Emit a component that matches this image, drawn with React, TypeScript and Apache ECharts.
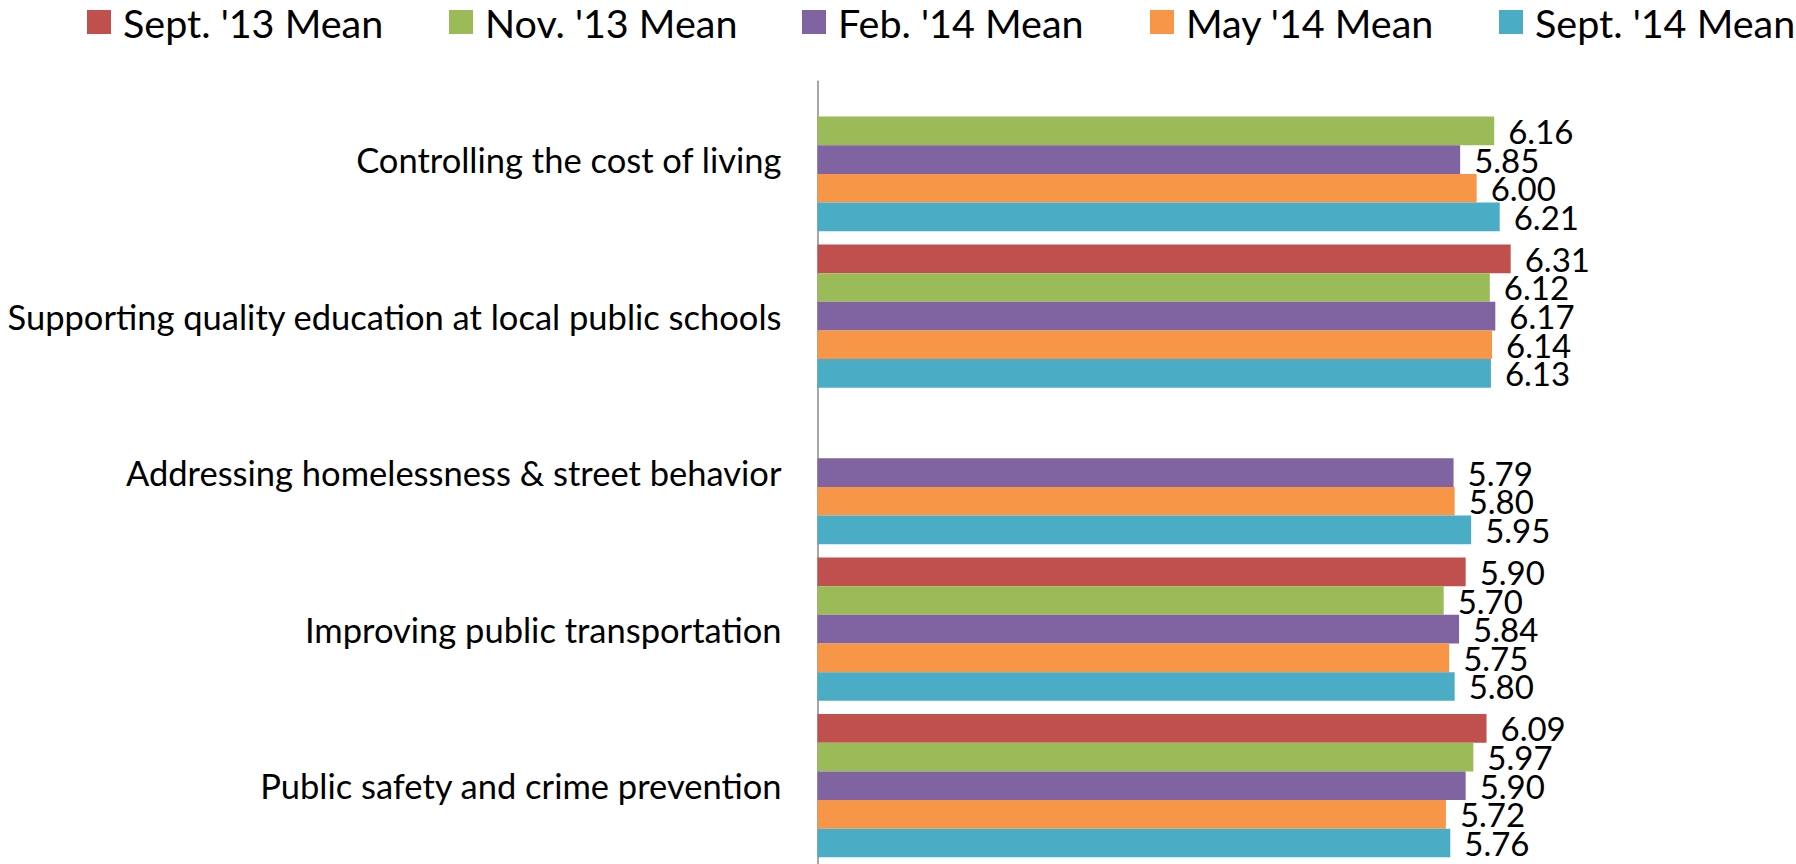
import React, { useEffect, useRef } from "react";
import * as echarts from "echarts";

const categories = [
  "Controlling the cost of living",
  "Supporting quality education at local public schools",
  "Addressing homelessness & street behavior",
  "Improving public transportation",
  "Public safety and crime prevention",
];

const seriesNames = ["Sept. '13 Mean", "Nov. '13 Mean", "Feb. '14 Mean", "May '14 Mean", "Sept. '14 Mean"];
const sept13 = [null, 6.31, null, 5.9, 6.09];
const nov13 = [6.16, 6.12, null, 5.7, 5.97];
const feb14 = [5.85, 6.17, 5.79, 5.84, 5.9];
const may14 = [6.0, 6.14, 5.8, 5.75, 5.72];
const sept14 = [6.21, 6.13, 5.95, 5.8, 5.76];

const seriesValues = [sept13, nov13, feb14, may14, sept14];
const colors = ["#C0504D", "#9BBB59", "#8064A2", "#F79646", "#4BACC6"];
const legendLefts = [87, 449, 802, 1150, 1499];

const FONT = "Lato";

export default function App() {
  const ref = useRef<HTMLDivElement>(null);

  useEffect(() => {
    if (!ref.current) return;
    const chart = echarts.init(ref.current, null, { renderer: "svg" });
    const option = {
      animation: false,
      backgroundColor: "#ffffff",
      legend: seriesNames.map((name, i) => ({
        data: [name],
        left: legendLefts[i],
        top: 2,
        padding: 0,
        itemWidth: 24,
        itemHeight: 24,
        icon: "rect",
        selectedMode: false,
        textStyle: {
          fontFamily: FONT,
          fontSize: 39.5,
          color: "#000000",
          padding: [0, 0, 0, 7],
        },
      })),
      grid: {
        left: 817.5,
        top: 81.3,
        width: 769,
        height: 784,
        containLabel: false,
      },
      xAxis: {
        type: "value",
        min: 0,
        max: 7,
        show: false,
      },
      yAxis: {
        type: "category",
        data: categories,
        inverse: true,
        axisLine: { show: true, lineStyle: { color: "#8a8a8a", width: 1.5 } },
        axisTick: { show: false },
        axisLabel: {
          margin: 36,
          fontFamily: FONT,
          fontSize: 34.5,
          color: "#000000",
          padding: [0, 0, 6, 0],
        },
        splitLine: { show: false },
      },
      series: seriesNames.map((name, i) => ({
        name,
        type: "bar",
        data: seriesValues[i],
        barGap: "0%",
        barCategoryGap: "8.5%",
        itemStyle: { color: colors[i] },
        label: {
          show: true,
          position: "right",
          distance: 14,
          fontFamily: FONT,
          fontSize: 33,
          color: "#000000",
          formatter: (p: any) => (p.value == null ? "" : Number(p.value).toFixed(2)),
        },
      })),
    };
    chart.setOption(option as any);
    return () => chart.dispose();
  }, []);

  return (
    <div
      ref={ref}
      style={{ position: "fixed", left: 0, top: 0, width: 1796, height: 864, background: "#fff" }}
    />
  );
}
